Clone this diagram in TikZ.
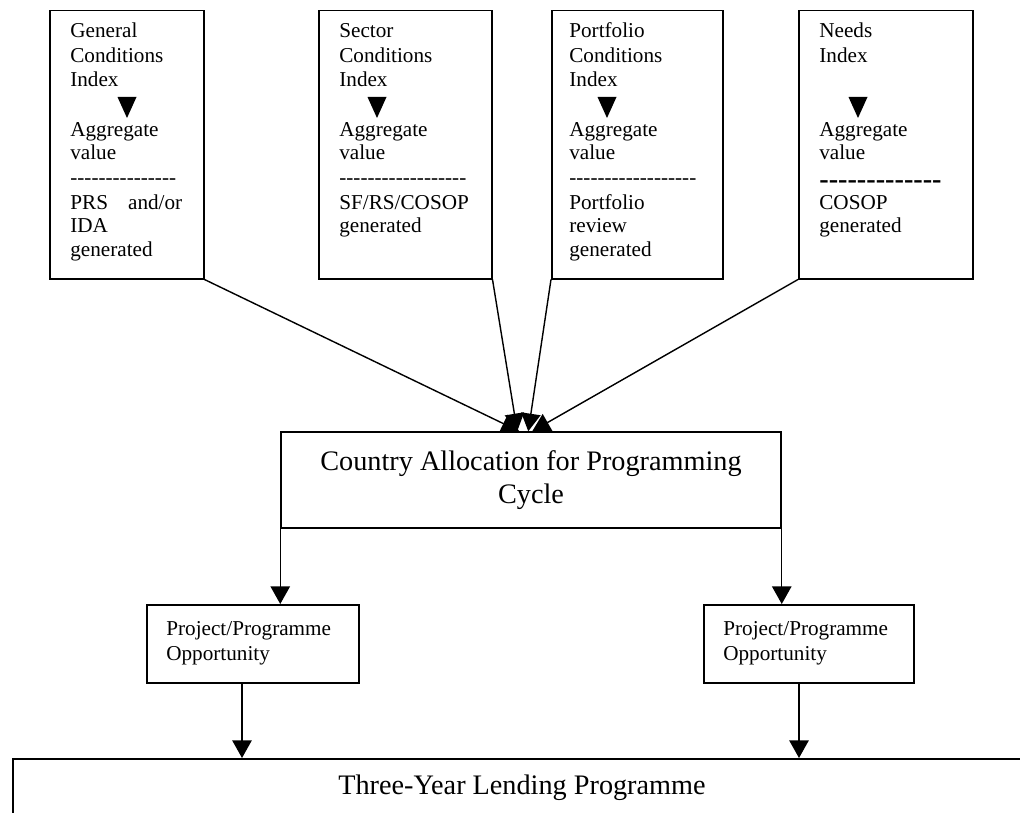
\documentclass[tikz,border=0pt]{standalone}
\usepackage{fontspec}
\setmainfont{Liberation Serif}
\usetikzlibrary{arrows.meta}
\def\pu{0.5665pt}
\newcommand\hyph[1]{\foreach \k in {1,...,#1}{-{}}}
\begin{document}
\begin{tikzpicture}[x=0.5665pt,y=-0.5665pt,
  box/.style={draw,line width=0.85pt,inner sep=0pt,anchor=north west},
  arr/.style={-{Triangle[width=11pt,length=10pt]},line width=0.8pt},
  txt/.style={anchor=base west,inner sep=0pt,font=\fontsize{12}{14}\selectfont},
  big/.style={font=\fontsize{16}{18.4}\selectfont}]
\useasboundingbox (0,0) rectangle (1020,813);
% top boxes
\node[box,minimum width=154*\pu,minimum height=268*\pu] (g1) at (49,10) {};
\node[box,minimum width=173*\pu,minimum height=268*\pu] (g2) at (318,10) {};
\node[box,minimum width=171*\pu,minimum height=268*\pu] (g3) at (551,10) {};
\node[box,minimum width=174*\pu,minimum height=268*\pu] (g4) at (798,10) {};
% box 1 text
\node[txt] (a1) at (70,38) {General};
\node[txt] (a2) at (70,63) {Conditions};
\node[txt] (a3) at (70,87) {Index};
\node[txt] (a4) at (70,137) {Aggregate};
\node[txt] (a5) at (70,160) {value};
\node[txt] (a6) at (70,185) {-{}-{}-{}-{}-{}-{}-{}-{}-{}-{}-{}-{}-{}-{}-};
\node[txt] (a7) at (70,210) {\makebox[63.4pt][s]{PRS\hfill and/or}};
\node[txt] (a8) at (70,233) {IDA};
\node[txt] (a9) at (70,257) {generated};
% box 2 text
\node[txt] (b1) at (339,38) {Sector};
\node[txt] (b2) at (339,63) {Conditions};
\node[txt] (b3) at (339,87) {Index};
\node[txt] (b4) at (339,137) {Aggregate};
\node[txt] (b5) at (339,160) {value};
\node[txt] (b6) at (339,185) {-{}-{}-{}-{}-{}-{}-{}-{}-{}-{}-{}-{}-{}-{}-{}-{}-{}-};
\node[txt] (b7) at (339,210) {SF/RS/COSOP};
\node[txt] (b8) at (339,233) {generated};
% box 3 text
\node[txt] (c1) at (569,38) {Portfolio};
\node[txt] (c2) at (569,63) {Conditions};
\node[txt] (c3) at (569,87) {Index};
\node[txt] (c4) at (569,137) {Aggregate};
\node[txt] (c5) at (569,160) {value};
\node[txt] (c6) at (569,185) {-{}-{}-{}-{}-{}-{}-{}-{}-{}-{}-{}-{}-{}-{}-{}-{}-{}-};
\node[txt] (c7) at (569,210) {Portfolio};
\node[txt] (c8) at (569,233) {review};
\node[txt] (c9) at (569,257) {generated};
% box 4 text
\node[txt] (d1) at (819,38) {Needs};
\node[txt] (d2) at (819,63) {Index};
\node[txt] (d4) at (819,137) {Aggregate};
\node[txt] (d5) at (819,160) {value};
\node[txt] (d6) at (819,189) {\fontsize{16}{18}\selectfont\bfseries -{}-{}-{}-{}-{}-{}-{}-{}-{}-{}-{}-{}-};
\node[txt] (d7) at (819,210) {COSOP};
\node[txt] (d8) at (819,233) {generated};
% small triangles
\foreach \cx in {127,377,607,858}
  \fill (\cx-9.5,97) -- (\cx+9.5,97) -- (\cx,118) -- cycle;
% centre box
\node[box,big,anchor=center,minimum width=500*\pu,minimum height=96*\pu,align=center] (ca) at (531,480)
  {Country Allocation for Programming\\Cycle};
% converging arrows
\draw[arr] (g1.south east) -- ([xshift=239*\pu]ca.north west);
\draw[arr] (g2.south east) -- ([xshift=237*\pu]ca.north west);
\draw[arr] (g3.south west) -- ([xshift=248*\pu]ca.north west);
\draw[arr] (g4.south west) -- ([xshift=252*\pu]ca.north west);
% opportunity boxes
\node[box,minimum width=212*\pu,minimum height=78*\pu] (p1) at (146,604) {};
\node[box,minimum width=210*\pu,minimum height=78*\pu] (p2) at (703,604) {};
\node[txt] (p1a) at (166,635) {Project/Programme};
\node[txt] (p1b) at (166,660) {Opportunity};
\node[txt] (p2a) at (723,635) {Project/Programme};
\node[txt] (p2b) at (723,660) {Opportunity};
\draw[arr] (ca.south west) -- (ca.south west |- p1.north);
\draw[arr] (ca.south east) -- (ca.south east |- p2.north);
% bottom box
\node[box,minimum width=1030*\pu,minimum height=120*\pu] (tl) at (12,758) {};
\node[big,inner sep=0pt,anchor=base] (tlt) at (522,794) {Three-Year Lending Programme};
\draw[arr] ([xshift=96*\pu]p1.south west) -- ([xshift=96*\pu]p1.south west |- tl.north);
\draw[arr] ([xshift=96*\pu]p2.south west) -- ([xshift=96*\pu]p2.south west |- tl.north);
\end{tikzpicture}
\end{document}
